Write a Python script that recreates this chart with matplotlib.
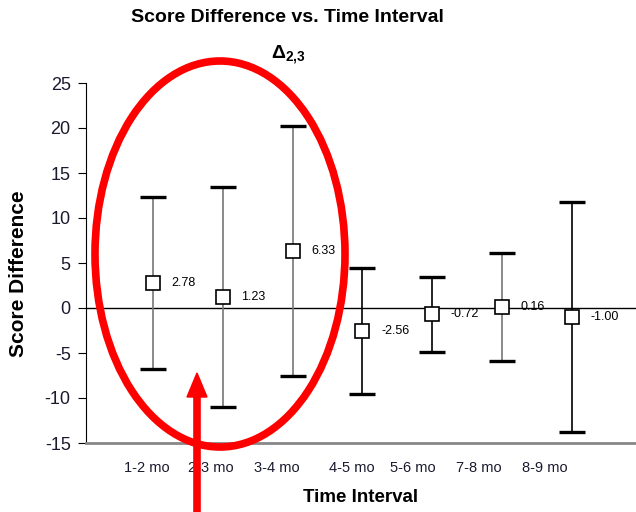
import numpy as np
import matplotlib
matplotlib.use("Agg")
import matplotlib.pyplot as plt
from matplotlib.patches import Ellipse, FancyArrow

plt.rcParams['font.family'] = ['Liberation Sans', 'DejaVu Sans']
plt.rcParams['axes.unicode_minus'] = False
plt.rcParams['mathtext.fontset'] = 'custom'
plt.rcParams['mathtext.bf'] = 'Liberation Sans:bold'
plt.rcParams['mathtext.rm'] = 'Liberation Sans'

# dados
intervalos = ["1-2 mo", "2-3 mo", "3-4 mo", "4-5 mo", "5-6 mo", "7-8 mo", "8-9 mo"]
medias = [2.78, 1.23, 6.33, -2.56, -0.72, 0.16, -1.00]
erros = [9.6, 12.2, 13.9, 7.0, 4.2, 6.0, 12.8]
rotulos = ["2.78", "1.23", "6.33", "-2.56", "-0.72", "0.16", "-1.00"]

x = np.arange(len(intervalos))
# rotulos do eixo x ficam um pouco deslocados dos pontos (estilo excel)
pos_rotulos = [-0.09, 0.83, 1.78, 2.85, 3.72, 4.67, 5.62]
cor_linha = ["#777777", "#777777", "#777777", "black", "black", "#777777", "black"]

fig = plt.figure(figsize=(6.36, 5.12), dpi=100)
ax = fig.add_axes([86/636, 69/512, 550/636, 360/512])

ax.axhline(0, color="black", lw=1, zorder=1)
for i in range(len(x)):
    ax.errorbar(x[i], medias[i], yerr=erros[i], fmt="none", ecolor=cor_linha[i],
                elinewidth=1.2, capsize=0, zorder=2)
    # caps pretos
    ax.errorbar(x[i], medias[i], yerr=erros[i], fmt="none", ecolor="black",
                elinewidth=0, capsize=9.5, capthick=2.4, zorder=3)
ax.plot(x, medias, ls="none", marker="s", ms=10, mfc="white", mec="black", mew=1.2, zorder=4)
for i in range(len(x)):
    ax.annotate(rotulos[i], (x[i], medias[i]), xytext=(13.5, 0), textcoords="offset points",
                fontsize=9, va="center", ha="left")

ax.set_xlim(-0.96, 6.92)
ax.set_ylim(-15, 25)
ax.set_yticks(range(-15, 26, 5))
ax.set_xticks(pos_rotulos)
ax.set_xticklabels(intervalos, fontsize=10.5, color="#1a1a2e")
ax.tick_params(axis="x", length=0, pad=13)
ax.tick_params(axis="y", length=6, direction="out", labelsize=13, pad=5, labelcolor="#1a1a2e")
ax.spines["top"].set_visible(False)
ax.spines["right"].set_visible(False)
ax.spines["bottom"].set_color("#888888")
ax.spines["bottom"].set_linewidth(2)
ax.set_ylabel("Score Difference", fontsize=15, fontweight="bold")
ax.yaxis.set_label_coords(-0.105, 0.47)
ax.set_xlabel("Time Interval", fontsize=13.5, fontweight="bold", labelpad=10)

fig.text(287/636, 1 - 17/512, "Score Difference vs. Time Interval", fontsize=14,
         fontweight="bold", ha="center", va="center")
fig.text(288/636, 1 - 55/512, r"$\mathbf{\Delta_{2{,}3}}$", fontsize=14,
         ha="center", va="center")

# elipse e seta vermelhas
elipse = Ellipse((220/636, 1 - 254/512), 250/636, 386/512, transform=fig.transFigure,
                 fill=False, edgecolor="red", lw=5.5, zorder=10)
fig.patches.append(elipse)
seta = FancyArrow(197/636, 0, 0, (512 - 373)/512, width=5/512, head_width=20/636,
                  head_length=24/512, length_includes_head=True, color="red",
                  transform=fig.transFigure, zorder=10)
fig.patches.append(seta)

fig.savefig("out.png", dpi=100)
